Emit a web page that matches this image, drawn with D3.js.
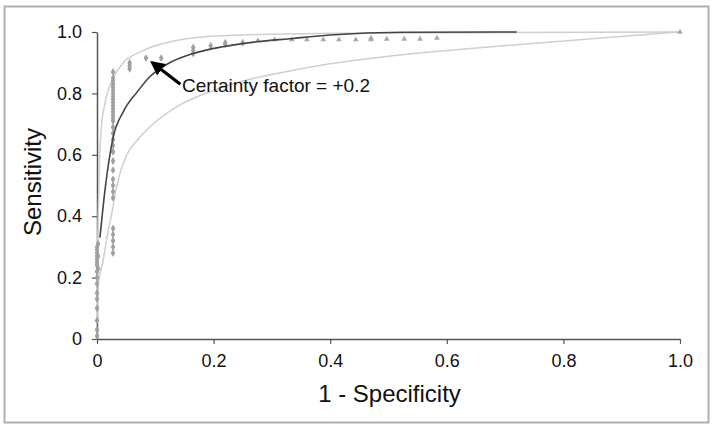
<!DOCTYPE html>
<html>
<head>
<meta charset="utf-8">
<script src="https://cdn.jsdelivr.net/npm/d3@7"></script>
<style>
  body { margin: 0; background: #fff; }
  svg { display: block; font-family: "Liberation Sans", Arial, sans-serif; }
</style>
</head>
<body>
<script>
// observed points (1 - specificity, sensitivity)
const ptsX0 = [0.0, 0.0, 0.0, 0.0, 0.0, 0.0, 0.0, 0.0, 0.0, 0.0, 0.0, 0.0, 0.0, 0.0, 0.0, 0.0, 0.002, 0.002, 0.002];
const ptsY0 = [0.01, 0.03, 0.06, 0.1, 0.13, 0.15, 0.18, 0.2, 0.22, 0.24, 0.25, 0.26, 0.27, 0.28, 0.29, 0.3, 0.23, 0.27, 0.31];

const ptsX1 = [0.0275, 0.0275, 0.0275, 0.0275, 0.0275, 0.0275, 0.0275, 0.0275, 0.0275, 0.0275, 0.0275, 0.0275, 0.0275, 0.0275,
  0.0275, 0.0275, 0.0275, 0.0275, 0.0275, 0.0275, 0.0275, 0.0275, 0.0275, 0.0275, 0.0275, 0.0275, 0.0275, 0.0275, 0.0275, 0.0275, 0.0275, 0.0275];
const ptsY1 = [0.28, 0.3, 0.32, 0.34, 0.36, 0.46, 0.48, 0.5, 0.52, 0.55, 0.58, 0.61, 0.63, 0.65, 0.67, 0.69,
  0.71, 0.72, 0.73, 0.74, 0.75, 0.76, 0.77, 0.78, 0.79, 0.8, 0.81, 0.82, 0.83, 0.84, 0.85, 0.87];

const ptsX2 = [0.056, 0.056, 0.056, 0.084, 0.11, 0.165, 0.165, 0.165, 0.195, 0.22, 0.22, 0.25];
const ptsY2 = [0.88, 0.89, 0.9, 0.915, 0.915, 0.93, 0.94, 0.95, 0.955, 0.96, 0.965, 0.965];

// triangle markers along the top
const triX = [0.276, 0.305, 0.334, 0.36, 0.388, 0.415, 0.444, 0.47, 0.47, 0.497, 0.527, 0.554, 0.583, 1.0];
const triY = [0.972, 0.975, 0.975, 0.975, 0.975, 0.975, 0.975, 0.975, 0.98, 0.977, 0.977, 0.977, 0.98, 1.0];

// fitted curve and bounds
const fitX = [0.005, 0.014, 0.0275, 0.045, 0.069, 0.091, 0.12, 0.165, 0.216, 0.274, 0.33, 0.4, 0.525, 0.72];
const fitY = [0.33, 0.49, 0.655, 0.74, 0.805, 0.855, 0.895, 0.93, 0.952, 0.968, 0.978, 0.99, 0.999, 1.0];

const upX = [0.0, 0.002, 0.004, 0.007, 0.014, 0.028, 0.045, 0.074, 0.1, 0.13, 0.19, 0.3, 0.5, 1.0];
const upY = [0.18, 0.4, 0.56, 0.68, 0.77, 0.85, 0.9, 0.935, 0.955, 0.97, 0.985, 0.993, 0.997, 1.0];

const loX = [0.0, 0.002, 0.01, 0.02, 0.026, 0.034, 0.051, 0.07, 0.09, 0.14, 0.2, 0.35, 0.52, 0.69, 0.86, 1.0];
const loY = [0.05, 0.17, 0.25, 0.36, 0.415, 0.5, 0.6, 0.65, 0.69, 0.76, 0.81, 0.88, 0.925, 0.954, 0.98, 1.0];

const xTicks = [0, 0.2, 0.4, 0.6, 0.8, 1.0];
const yTicks = [0, 0.2, 0.4, 0.6, 0.8, 1.0];

const width = 714;
const height = 430;
const margin = { top: 32, right: 34, bottom: 91, left: 97 };

const svg = d3.select('body').append('svg')
  .attr('width', width)
  .attr('height', height);

// outer frame
svg.append('rect')
  .attr('x', 4.5).attr('y', 6.5)
  .attr('width', 704).attr('height', 416)
  .attr('fill', 'none')
  .attr('stroke', '#b0b0b0')
  .attr('stroke-width', 2);

const x = d3.scaleLinear().domain([0, 1]).range([margin.left, width - margin.right]);
const y = d3.scaleLinear().domain([0, 1]).range([height - margin.bottom, margin.top]);

const fmt = d => (d === 0 ? '0' : d.toFixed(1));

const gx = svg.append('g')
  .attr('transform', `translate(0,${height - margin.bottom})`)
  .call(d3.axisBottom(x).tickValues(xTicks).tickFormat(fmt).tickSizeInner(5).tickSizeOuter(0).tickPadding(10));
const gy = svg.append('g')
  .attr('transform', `translate(${margin.left},0)`)
  .call(d3.axisLeft(y).tickValues(yTicks).tickFormat(fmt).tickSizeInner(5).tickSizeOuter(0).tickPadding(10));

[gx, gy].forEach(g => {
  g.select('.domain').attr('stroke', '#555').attr('stroke-width', 1.5);
  g.selectAll('.tick line').attr('stroke', '#555').attr('stroke-width', 1.2);
  g.selectAll('.tick text').attr('fill', '#111').style('font-size', '18px');
});

// axis titles
svg.append('text')
  .attr('x', (x(0) + x(1)) / 2 + 1)
  .attr('y', 402)
  .attr('text-anchor', 'middle')
  .style('font-size', '24px')
  .attr('fill', '#111')
  .text('1 - Specificity');

svg.append('text')
  .attr('transform', 'translate(41,182) rotate(-90)')
  .attr('text-anchor', 'middle')
  .style('font-size', '24px')
  .attr('fill', '#111')
  .text('Sensitivity');

// lines
const line = d3.line().x(d => x(d[0])).y(d => y(d[1])).curve(d3.curveMonotoneX);
const zip = (a, b) => a.map((v, i) => [v, b[i]]);

svg.append('path').datum(zip(upX, upY))
  .attr('d', line).attr('fill', 'none').attr('stroke', '#cfcfcf').attr('stroke-width', 1.5);
svg.append('path').datum(zip(loX, loY))
  .attr('d', line).attr('fill', 'none').attr('stroke', '#cfcfcf').attr('stroke-width', 1.5);

// markers
const diamond = d3.symbol().type(d3.symbolDiamond).size(18);
const tri = d3.symbol().type(d3.symbolTriangle).size(14);

const diamonds = zip(ptsX0, ptsY0).concat(zip(ptsX1, ptsY1), zip(ptsX2, ptsY2));
svg.append('g').selectAll('path')
  .data(diamonds).enter().append('path')
  .attr('d', diamond)
  .attr('transform', d => `translate(${x(d[0])},${y(d[1])})`)
  .attr('fill', '#a0a0a0');

svg.append('g').selectAll('path')
  .data(zip(triX, triY)).enter().append('path')
  .attr('d', tri)
  .attr('transform', d => `translate(${x(d[0])},${y(d[1])})`)
  .attr('fill', '#a8a8a8');

svg.append('path').datum(zip(fitX, fitY))
  .attr('d', line).attr('fill', 'none').attr('stroke', '#444').attr('stroke-width', 1.6);

// annotation
svg.append('defs').append('marker')
  .attr('id', 'head')
  .attr('viewBox', '0 0 10 10')
  .attr('refX', 8).attr('refY', 5)
  .attr('markerWidth', 4.5).attr('markerHeight', 4.5)
  .attr('orient', 'auto')
  .append('path').attr('d', 'M0,0L10,5L0,10z').attr('fill', '#000');

svg.append('line')
  .attr('x1', x(0.143)).attr('y1', y(0.83))
  .attr('x2', x(0.095)).attr('y2', y(0.9))
  .attr('stroke', '#000').attr('stroke-width', 3.2)
  .attr('marker-end', 'url(#head)');

svg.append('text')
  .attr('x', 182).attr('y', 92)
  .style('font-size', '19px')
  .attr('fill', '#111')
  .text('Certainty factor = +0.2');
</script>
</body>
</html>
